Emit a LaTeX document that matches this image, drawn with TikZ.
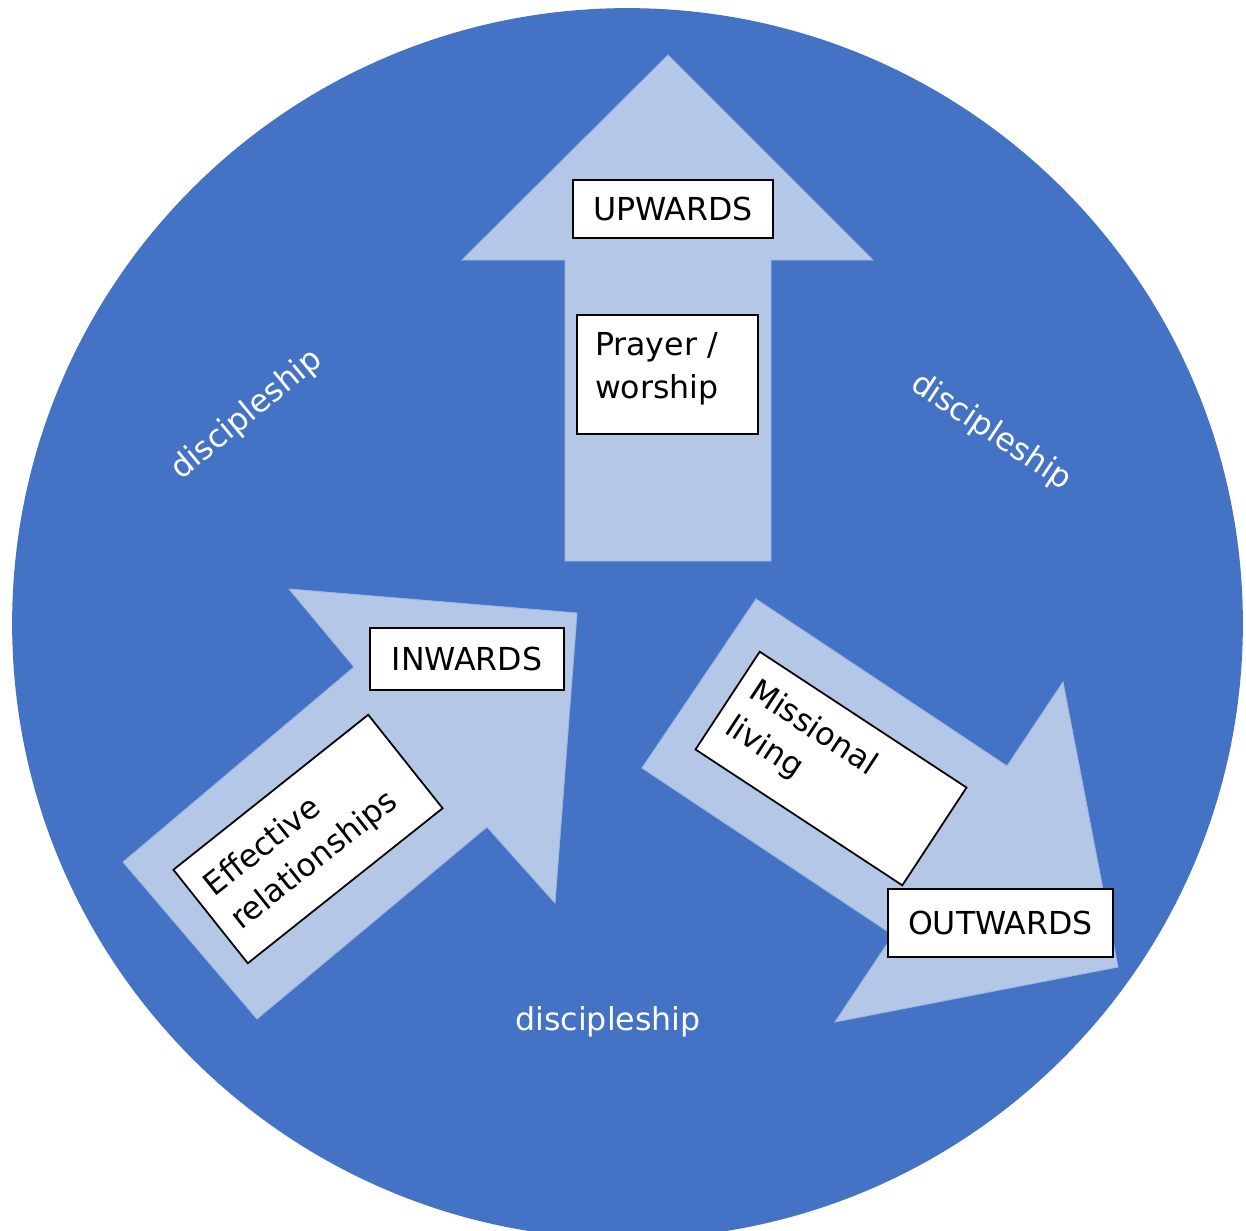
\documentclass[tikz,border=0pt]{standalone}
\usepackage{fontspec}
\setmainfont{DejaVu Sans}
\definecolor{discblue}{HTML}{4472C4}
\definecolor{arrowblue}{HTML}{B4C7E7}

\begin{document}
\begin{tikzpicture}
  [x=0.02cm, y=-0.02cm,
   font=\fontsize{18pt}{24.5pt}\selectfont,
   bigarrow/.style={fill=arrowblue, draw=arrowblue!80!discblue, line width=0.5pt},
   lbl/.style={draw=black, fill=white, line width=1pt, inner sep=0pt},
   word/.style={text=white, inner sep=0pt}]
  \clip (0,0) rectangle (1246,1230);
  \fill [discblue] (627.5,623.5) circle [radius=12.31cm];

  \draw [bigarrow] (668,55) -- (873,260) -- (771,260) -- (771,561)
    -- (565,561) -- (565,260) -- (462,260) -- cycle;
  \draw [bigarrow] (577,613) -- (555,903) -- (487,827) -- (257,1019)
    -- (123,862) -- (354,667) -- (289,589) -- cycle;
  \draw [bigarrow] (1118,967) -- (835,1022) -- (893,935) -- (642,768)
    -- (756,599) -- (1007,766) -- (1063,682) -- cycle;

  \node (up) at (673,209) [lbl, minimum width=4cm, minimum height=1.16cm] {UPWARDS};
  \node (prayer) at (667.5,374.5) [lbl, inner xsep=0.36cm, inner ysep=0.34cm]
    {\parbox[t][1.70cm][t]{2.9cm}{\raggedright Prayer /\\worship}};
  \node (in) at (467,659) [lbl, minimum width=3.88cm, minimum height=1.24cm] {INWARDS};
  \node (rel) at (308,839) [lbl, rotate=38.5, text width=4.38cm, align=left,
    minimum height=2.39cm, inner xsep=0.3cm] {Effective\\relationships};
  \node (out) at (1000.5,923) [lbl, minimum width=4.5cm, minimum height=1.36cm] {OUTWARDS};
  \node (miss) at (831,768.5) [lbl, rotate=-33.3, inner xsep=0.28cm, inner ysep=0.4cm]
    {\parbox[t][1.54cm][t]{4.39cm}{\raggedright Missional\\living}};

  \node (dleft) at (247,415) [word, rotate=39.6] {discipleship};
  \node (dright) at (991,432) [word, rotate=-33.6] {discipleship};
  \node (dlow) at (608,1022) [word] {discipleship};
\end{tikzpicture}
\end{document}
